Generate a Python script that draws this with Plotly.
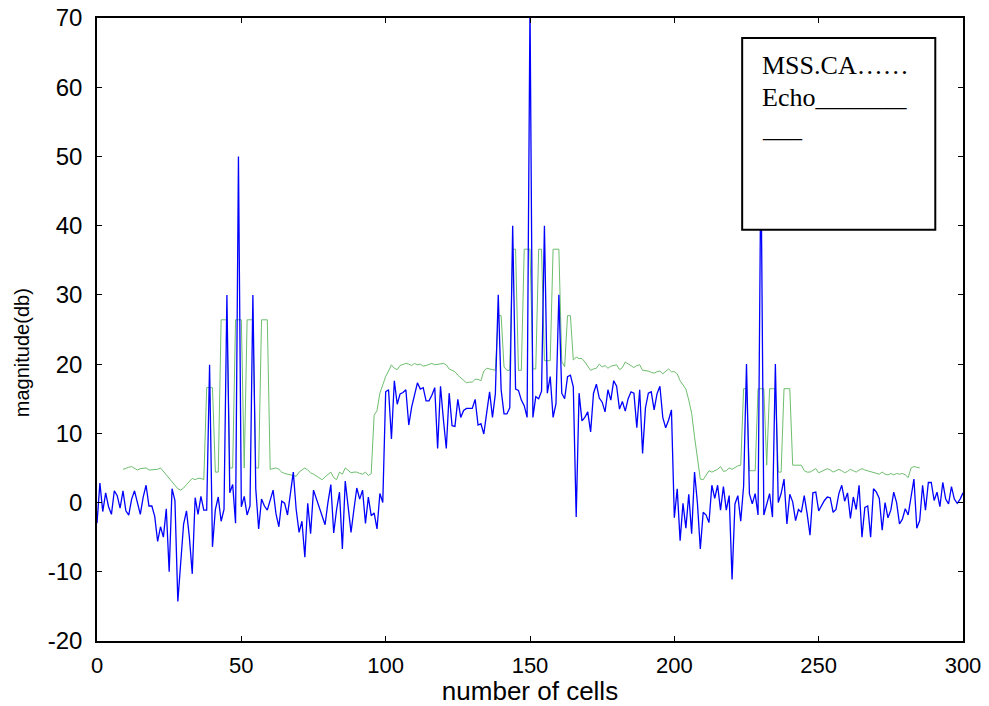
import plotly.graph_objects as go

# Echo magnitude per range cell (dB), cells 0..300
echo_db = [
    -3.0, 2.8, -1.3, 1.4, -0.6, -1.7, 1.7, 1.0, -0.8, 1.7,
    -1.2, -1.8, 0.5, 1.7, 0.0, -1.7, 0.8, 2.5, -0.5, -0.5,
    -2.0, -5.6, -3.5, -5.0, -0.9, -10.0, 2.0, 0.3, -14.3, -8.0,
    -3.1, -1.2, -5.0, -10.3, 0.7, -1.7, 0.9, -1.1, -1.1, 19.9,
    -6.4, -1.0, 0.8, -2.7, -1.0, 30.0, 1.4, 2.6, -3.0, 50.0,
    -0.6, 0.9, -1.8, -0.5, 30.0, 2.0, -3.8, 0.5, -0.5, -1.1,
    0.5, 1.8, -1.6, -3.5, 0.2, -0.1, -1.8, 1.3, 4.4, -1.0,
    -4.3, -2.7, -7.9, -0.1, -4.5, 1.8, 0.5, -0.5, -2.0, -3.2,
    0.0, 2.6, -4.4, -1.0, 1.5, -6.7, 3.1, -0.5, -4.3, -1.0,
    2.1, 0.5, 1.8, -3.0, 0.8, -1.9, -1.5, -3.8, 1.3, 0.0,
    16.0, 16.3, 9.2, 17.6, 14.2, 15.7, 15.9, 16.3, 11.2, 13.8,
    15.5, 17.3, 16.4, 16.6, 14.7, 14.7, 15.5, 16.6, 7.8, 16.8,
    12.0, 7.8, 15.8, 11.1, 11.0, 14.9, 12.3, 13.3, 13.6, 13.6,
    13.6, 14.9, 11.2, 11.4, 9.9, 13.0, 16.0, 12.3, 15.7, 30.0,
    16.3, 12.8, 12.8, 13.7, 40.0, 16.4, 16.2, 14.8, 14.0, 12.3,
    72.0, 12.3, 15.3, 15.0, 16.1, 40.0, 15.8, 18.2, 12.3, 14.3,
    30.0, 15.8, 15.0, 18.2, 18.4, 16.7, -2.1, 15.8, 11.8, 12.3,
    13.1, 10.2, 15.8, 17.1, 15.1, 14.5, 13.1, 16.3, 14.8, 17.6,
    16.8, 13.5, 14.6, 13.2, 15.0, 16.0, 15.8, 10.8, 16.3, 7.1,
    13.7, 15.8, 16.0, 13.4, 15.7, 16.8, 12.3, 10.8, 11.9, 13.4,
    -2.2, 2.0, -5.5, -0.1, -3.7, 1.2, -4.5, 4.4, -0.1, -6.7,
    -1.4, -1.8, -2.9, 2.5, 0.6, 2.5, -1.1, 2.3, -1.1, 1.0,
    -11.1, -0.2, 1.0, -2.7, 2.4, 20.0, 1.3, -0.2, 1.3, -1.8,
    50.0, -1.8, -0.2, 1.3, -2.1, 20.0, 0.0, 1.3, 3.4, -3.1,
    1.2, 0.1, -2.6, -1.0, -1.4, 1.0, -1.6, -4.7, 1.4, 1.5,
    -1.2, -0.4, 0.3, 0.8, 0.7, -1.4, -1.0, 1.3, 2.5, 0.2,
    1.4, -2.3, 0.8, -1.0, 2.5, -5.0, -0.7, -0.5, -5.0, 2.0,
    1.5, 0.6, -4.0, 0.0, -2.2, -1.1, 1.5, 0.0, -3.1, -2.4,
    -0.9, -1.8, 0.9, 3.4, -3.7, -2.6, 2.5, -1.1, 2.9, 2.9,
    0.3, 1.5, -0.6, 2.9, 0.5, -0.2, 2.3, 0.5, -0.1, 0.5,
    1.4,
]
echo_cells = list(range(len(echo_db)))

# CA threshold (dB), defined from cell 9 to cell 285
ca_first_cell = 9
ca_threshold_db = [
    4.8, 5.0, 5.1, 5.2, 4.9, 4.7, 4.9, 5.0, 5.0, 4.7,
    4.7, 4.7, 4.8, 5.0, 4.5, 4.0, 3.4, 2.9, 2.4, 2.0,
    1.8, 2.1, 2.6, 3.1, 3.5, 3.3, 3.5, 3.5, 3.3, 16.6,
    16.6, 16.6, 4.4, 4.4, 26.4, 26.4, 26.4, 5.0, 5.0, 26.4,
    26.4, 26.4, 5.0, 26.4, 26.4, 26.4, 5.0, 5.0, 26.4, 26.4,
    26.4, 4.8, 4.9, 5.0, 4.8, 4.4, 4.2, 4.1, 3.9, 3.8,
    3.8, 4.4, 4.7, 5.0, 4.7, 4.3, 4.1, 3.8, 3.6, 3.3,
    3.7, 4.1, 4.4, 3.6, 3.3, 4.4, 4.1, 5.0, 4.6, 4.3,
    4.4, 4.4, 4.2, 4.1, 4.4, 3.9, 4.2, 12.6, 13.3, 15.8,
    17.0, 18.2, 19.0, 19.9, 19.4, 19.2, 19.8, 19.9, 20.1, 20.0,
    19.8, 20.1, 19.9, 20.0, 19.7, 19.8, 20.0, 20.1, 19.9, 20.0,
    20.0, 20.1, 19.9, 19.3, 19.1, 18.9, 18.4, 18.0, 17.6, 17.3,
    17.4, 17.4, 17.8, 17.8, 17.6, 19.0, 19.4, 19.3, 19.2, 19.1,
    27.0, 27.0, 19.6, 19.1, 19.1, 36.6, 36.6, 19.1, 19.1, 36.6,
    36.6, 36.6, 19.3, 19.3, 36.6, 36.6, 20.5, 20.5, 20.5, 36.6,
    36.6, 36.6, 20.4, 19.6, 27.0, 27.0, 20.6, 21.0, 20.8, 20.8,
    20.3, 19.7, 19.1, 19.3, 19.4, 20.0, 19.6, 19.8, 19.4, 19.7,
    19.8, 19.9, 19.2, 19.5, 20.3, 20.0, 19.8, 19.5, 19.8, 19.9,
    19.1, 19.1, 19.0, 18.8, 18.7, 18.9, 19.0, 18.6, 19.0, 19.3,
    18.9, 18.9, 18.6, 17.6, 17.0, 16.4, 14.8, 12.9, 9.5, 6.0,
    3.4, 3.3, 3.9, 4.6, 4.4, 4.6, 4.8, 5.2, 4.5, 4.6,
    5.0, 4.8, 5.1, 5.3, 5.4, 16.45, 16.45, 4.6, 4.6, 4.6,
    16.45, 16.45, 16.45, 5.4, 16.45, 16.45, 16.45, 4.4, 4.4, 16.45,
    16.45, 16.45, 5.4, 5.4, 5.4, 5.4, 4.6, 4.4, 4.4, 4.7,
    4.9, 4.3, 4.5, 4.7, 4.9, 4.7, 4.4, 4.6, 4.8, 4.6,
    4.3, 4.5, 4.8, 4.6, 4.4, 4.7, 4.9, 4.7, 4.6, 4.5,
    4.3, 4.2, 4.1, 4.4, 4.1, 4.0, 4.2, 4.0, 4.2, 4.1,
    4.2, 4.0, 3.6, 5.0, 5.2, 5.1, 5.0,
]
ca_cells = list(range(ca_first_cell, ca_first_cell + len(ca_threshold_db)))

x_ticks = [0, 50, 100, 150, 200, 250, 300]
y_ticks = [-20, -10, 0, 10, 20, 30, 40, 50, 60, 70]
legend_lines = ["MSS.CA……", "Echo_______", "___"]

SANS = "Liberation Sans, Arial, sans-serif"
SERIF = "Liberation Serif, Times New Roman, serif"

fig = go.Figure()
fig.add_trace(go.Scatter(
    x=ca_cells, y=ca_threshold_db, mode="lines",
    line=dict(color="rgb(110,190,110)", width=1),
    name="MSS.CA", showlegend=False,
))
fig.add_trace(go.Scatter(
    x=echo_cells, y=echo_db, mode="lines",
    line=dict(color="rgb(0,0,255)", width=1.3),
    name="Echo", showlegend=False,
))

axis_common = dict(
    showgrid=False, zeroline=False, showline=True, linecolor="black",
    linewidth=1.5, mirror="ticks", ticks="inside", ticklen=5, tickwidth=1,
    tickcolor="black", automargin=False,
)
fig.update_xaxes(
    range=[0, 300], tickvals=x_ticks, ticktext=[str(v) for v in x_ticks],
    tickfont=dict(family=SANS, size=22, color="black"),
    ticklabelstandoff=4,
    title=dict(text="number of cells", standoff=4,
               font=dict(family=SANS, size=26, color="black")),
    **axis_common,
)
fig.update_yaxes(
    range=[-20, 70], tickvals=y_ticks, ticktext=[str(v) for v in y_ticks],
    tickfont=dict(family=SANS, size=24, color="black"),
    ticklabelstandoff=8,
    **axis_common,
)

# y axis caption, placed a little below the axis midpoint
fig.add_annotation(
    text="magnitude(db)", xref="paper", yref="paper", x=-0.0866, y=0.462,
    xanchor="center", yanchor="middle", textangle=-90, showarrow=False,
    font=dict(family=SANS, size=20, color="black"),
)

# boxed text key in the upper right
fig.add_shape(
    type="rect", xref="paper", yref="paper",
    x0=0.745, x1=0.968, y0=0.660, y1=0.968,
    line=dict(color="black", width=2), fillcolor="white", layer="above",
)
for text, ypos in zip(legend_lines, [0.9238, 0.8724, 0.8226]):
    fig.add_annotation(
        text=text, xref="paper", yref="paper", x=0.7655, y=ypos,
        xanchor="left", yanchor="middle", showarrow=False,
        font=dict(family=SERIF, size=26, color="black"),
    )

fig.update_layout(
    width=989, height=706,
    margin=dict(l=97, r=26, t=18, b=65),
    paper_bgcolor="white", plot_bgcolor="white",
    showlegend=False,
)

fig.write_html("out.html")
